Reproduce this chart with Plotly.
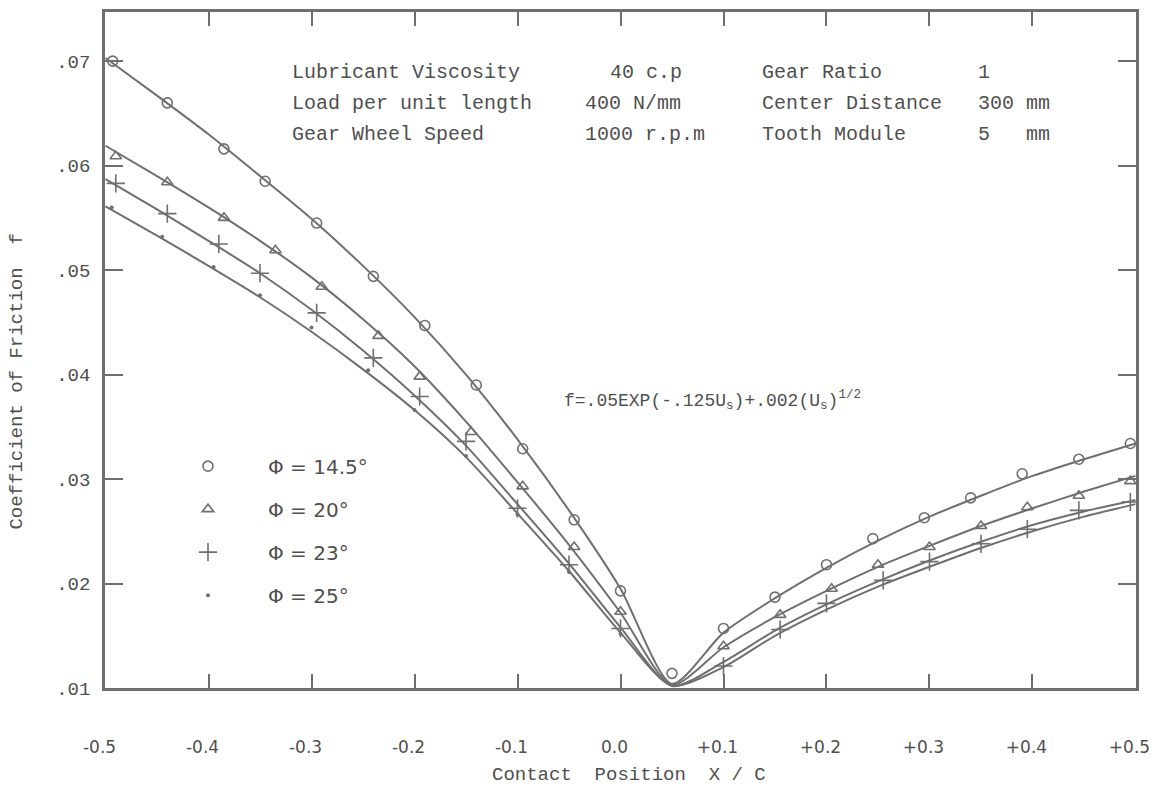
import plotly.graph_objects as go

# ---------------- data ----------------
series_names = ["Φ = 14.5°", "Φ = 20°", "Φ = 23°", "Φ = 25°"]

# smooth fitted curves
line_x = [-0.5, -0.45, -0.4, -0.35, -0.3, -0.25, -0.2, -0.15, -0.1, -0.05, 0.0, 0.05,
          0.1, 0.15, 0.2, 0.25, 0.3, 0.35, 0.4, 0.45, 0.5]
line_145 = [0.0703, 0.0667, 0.0630, 0.0590, 0.0549, 0.0504, 0.0455, 0.0400, 0.0338, 0.0270, 0.0195, 0.0104,
            0.0153, 0.0186, 0.0215, 0.0241, 0.0264, 0.0284, 0.0303, 0.0319, 0.0334]
line_20 = [0.0619, 0.0590, 0.0560, 0.0528, 0.0493, 0.0453, 0.0408, 0.0355, 0.0297, 0.0237, 0.0172, 0.0103,
           0.0139, 0.0168, 0.0193, 0.0216, 0.0236, 0.0255, 0.0272, 0.0288, 0.0303]
line_23 = [0.0587, 0.0558, 0.0528, 0.0497, 0.0462, 0.0423, 0.0380, 0.0332, 0.0276, 0.0219, 0.0158, 0.0102,
           0.0125, 0.0155, 0.0180, 0.0202, 0.0222, 0.0240, 0.0256, 0.0269, 0.0280]
line_25 = [0.0561, 0.0533, 0.0504, 0.0474, 0.0441, 0.0405, 0.0366, 0.0321, 0.0267, 0.0212, 0.0153, 0.0102,
           0.0120, 0.0150, 0.0175, 0.0197, 0.0216, 0.0234, 0.0250, 0.0264, 0.0276]

# measured points
pts_145_x = [-0.493, -0.44, -0.385, -0.345, -0.295, -0.24, -0.19, -0.14, -0.095, -0.045, 0.0, 0.05,
             0.10, 0.15, 0.20, 0.245, 0.295, 0.34, 0.39, 0.445, 0.495]
pts_145_y = [0.0700, 0.0660, 0.0616, 0.0585, 0.0545, 0.0494, 0.0447, 0.0390, 0.0329, 0.0261, 0.0193, 0.0114,
             0.0157, 0.0187, 0.0218, 0.0243, 0.0263, 0.0282, 0.0305, 0.0319, 0.0334]
pts_20_x = [-0.49, -0.44, -0.385, -0.335, -0.29, -0.235, -0.195, -0.145, -0.095, -0.045, 0.0,
            0.10, 0.155, 0.205, 0.25, 0.30, 0.35, 0.395, 0.445, 0.495]
pts_20_y = [0.0609, 0.0584, 0.0550, 0.0519, 0.0484, 0.0437, 0.0398, 0.0345, 0.0293, 0.0235, 0.0173,
            0.0140, 0.0170, 0.0195, 0.0218, 0.0235, 0.0255, 0.0273, 0.0284, 0.0298]
pts_23_x = [-0.49, -0.44, -0.39, -0.35, -0.295, -0.24, -0.195, -0.15, -0.10, -0.05, 0.0,
            0.10, 0.155, 0.20, 0.255, 0.30, 0.35, 0.395, 0.445, 0.495]
pts_23_y = [0.0583, 0.0554, 0.0525, 0.0497, 0.0459, 0.0416, 0.0379, 0.0336, 0.0272, 0.0218, 0.0157,
            0.0121, 0.0156, 0.0181, 0.0203, 0.0221, 0.0238, 0.0252, 0.0270, 0.0278]
pts_25_x = [-0.494, -0.445, -0.395, -0.35, -0.3, -0.245, -0.2, -0.15, -0.10, -0.05, 0.0]
pts_25_y = [0.0560, 0.0532, 0.0503, 0.0476, 0.0445, 0.0404, 0.0366, 0.0322, 0.0266, 0.0211, 0.0152]

x_tickvals = [-0.5, -0.4, -0.3, -0.2, -0.1, 0.0, 0.1, 0.2, 0.3, 0.4, 0.5]
x_ticktext = ["-0.5", "-0.4", "-0.3", "-0.2", "-0.1", "0.0", "+0.1", "+0.2", "+0.3", "+0.4", "+0.5"]
y_tickvals = [0.01, 0.02, 0.03, 0.04, 0.05, 0.06, 0.07]
y_ticktext = [".01", ".02", ".03", ".04", ".05", ".06", ".07"]

info_rows = [
    ["Lubricant Viscosity", "40 c.p", "Gear Ratio", "1"],
    ["Load per unit length", "400 N/mm", "Center Distance", "300 mm"],
    ["Gear Wheel Speed", "1000 r.p.m", "Tooth Module", "5   mm"],
]

# ---------------- style ----------------
GRAY = "#6f6f6f"
TXT = "#4f4f4f"
MONO = "Liberation Mono, Courier New, monospace"
LETTER = "DejaVu Sans, sans-serif"

fig = go.Figure()

for ly in [line_145, line_20, line_23, line_25]:
    fig.add_trace(go.Scatter(x=line_x, y=ly, mode="lines", showlegend=False, hoverinfo="skip",
                             line=dict(color=GRAY, width=2, shape="spline", smoothing=0.7)))

marker_specs = [
    (pts_145_x, pts_145_y, dict(symbol="circle-open", size=10, color=GRAY, line=dict(width=1.6, color=GRAY))),
    (pts_20_x, pts_20_y, dict(symbol="triangle-up-open", size=10, color=GRAY, line=dict(width=1.6, color=GRAY))),
    (pts_23_x, pts_23_y, dict(symbol="cross-thin-open", size=13, color=GRAY, line=dict(width=1.6, color=GRAY))),
    (pts_25_x, pts_25_y, dict(symbol="circle", size=4, color=GRAY)),
]
for i, (px, py, mk) in enumerate(marker_specs):
    fig.add_trace(go.Scatter(x=px, y=py, mode="markers", name=series_names[i],
                             legendgroup=f"g{i}", marker=mk))

# info block
row_y = [0.911, 0.865, 0.8195]
col_x = [0.1794, 0.4636, 0.6353, 0.8448]
for r, row in enumerate(info_rows):
    for c, txt in enumerate(row):
        xx = col_x[c]
        if r == 0 and c == 1:
            xx = 0.488
        fig.add_annotation(x=xx, y=row_y[r], xref="paper", yref="paper", text=txt, showarrow=False,
                           xanchor="left", yanchor="middle",
                           font=dict(family=MONO, size=20, color=TXT))

# formula
fig.add_annotation(x=0.4433, y=0.426, xref="paper", yref="paper",
                   text="f=.05EXP(-.125U<sub>s</sub>)+.002(U<sub>s</sub>)<sup>1/2</sup>",
                   showarrow=False, xanchor="left", yanchor="middle",
                   font=dict(family=MONO, size=18, color=TXT))

# axis titles
fig.add_annotation(x=-0.0855, y=0.453, xref="paper", yref="paper", text="Coefficient of Friction  f",
                   textangle=-90, showarrow=False, xanchor="center", yanchor="middle",
                   font=dict(family=MONO, size=19, color=TXT))
fig.add_annotation(x=0.508, y=-0.129, xref="paper", yref="paper", text="Contact  Position  X / C",
                   showarrow=False, xanchor="center", yanchor="middle",
                   font=dict(family=MONO, size=19, color=TXT))

fig.update_xaxes(range=[-0.5005, 0.5005], tickvals=x_tickvals, ticktext=x_ticktext,
                 ticks="inside", ticklen=14, tickwidth=1.5, tickcolor=GRAY,
                 showline=True, linecolor=GRAY, linewidth=2.5, mirror="ticks",
                 showgrid=False, zeroline=False, ticklabelstandoff=42, ticklabelshift=-6,
                 ticklabeloverflow="allow", automargin=False,
                 tickfont=dict(family=LETTER, size=17, color=TXT))
fig.update_yaxes(range=[0.01, 0.0747], tickvals=y_tickvals, ticktext=y_ticktext,
                 ticks="inside", ticklen=18, tickwidth=1.5, tickcolor=GRAY,
                 showline=True, linecolor=GRAY, linewidth=2.5, mirror="ticks",
                 showgrid=False, zeroline=False, ticklabelstandoff=8, automargin=False,
                 tickfont=dict(family=MONO, size=19, color=TXT))

fig.update_layout(
    width=1152, height=794,
    margin=dict(l=105, r=16, t=12, b=106),
    paper_bgcolor="white", plot_bgcolor="white",
    showlegend=True,
    legend=dict(x=0.0417, y=0.357, xanchor="left", yanchor="top",
                bgcolor="rgba(0,0,0,0)", tracegroupgap=14, itemwidth=110,
                font=dict(family=LETTER, size=20, color=TXT)),
)

fig.write_html("out.html")
